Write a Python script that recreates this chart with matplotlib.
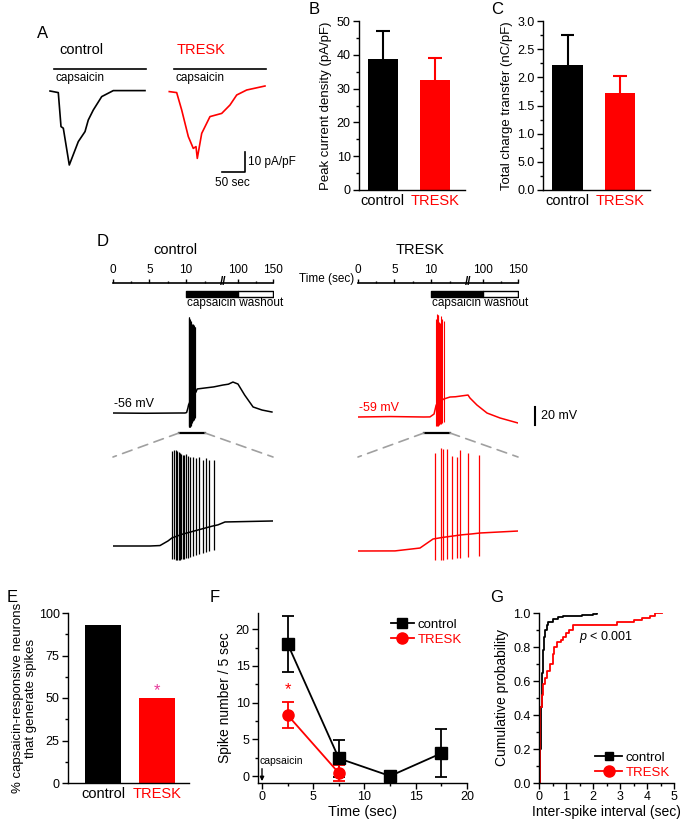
import numpy as np
import matplotlib
matplotlib.use("Agg")
import matplotlib.pyplot as plt
from matplotlib.patches import ConnectionPatch
from matplotlib.lines import Line2D
from matplotlib.ticker import MultipleLocator, FixedLocator, FixedFormatter

plt.rcParams['font.family'] = ['Liberation Sans', 'DejaVu Sans']
plt.rcParams['mathtext.fontset'] = 'custom'
plt.rcParams['mathtext.it'] = 'Liberation Sans:italic'
plt.rcParams['mathtext.rm'] = 'Liberation Sans'
plt.rcParams['axes.linewidth'] = 1.0

W, H = 686, 819
RED = '#ff0000'
MAGENTA = '#e6399b'
GRAY = '#a0a0a0'

# ---- data ----
groups = ['control', 'TRESK']

# A: capsaicin-evoked currents (time in s, current in pA/pF)
a_ctrl_t = [10.9, 28.9, 34.8, 39.8, 52.8, 72.4, 87.0, 94.1, 105.0, 123.3, 148.5, 217.4]
a_ctrl_i = [0.0, -0.8, -17.8, -18.6, -37.0, -25.3, -20.3, -14.5, -9.5, -2.8, 0.2, 0.2]
a_tresk_t = [9.3, 25.4, 36.3, 50.7, 61.5, 67.4, 70.2, 79.8, 97.8, 123.3, 141.3, 155.9, 177.6, 217.4]
a_tresk_i = [-0.3, -0.8, -9.5, -22.8, -28.7, -27.8, -33.7, -21.2, -12.8, -11.2, -7.0, -2.0, 0.5, 2.5]
a_caps_window = (20, 220)

# B, C: mean +/- SEM
peak_density = [38.9, 32.5]
peak_density_err = [8.0, 6.5]
charge = [2.22, 1.72]
charge_err = [0.54, 0.31]
charge_ticks = [0.0, 0.5, 1.0, 1.5, 2.0, 2.5, 3.0]
charge_ticklabels = ['0.0', '5.0', '1.0', '1.5', '2.0', '2.5', '3.0']

# D: time axis schematic (s)
d_axis_ticks = [0, 5, 10, 100, 150]
d_axis_minor = [2.5, 7.5, 43, 125]
d_capsaicin = (10, 100)
d_washout = (100, 150)
d_window = (40.6, 56.6)

# D: membrane potential (time in s, mV)
d_ctrl_t = [0, 20, 40.6, 44.3, 45.3, 46.1, 46.5, 47.5, 48.5, 49.5, 50.5, 51.1, 51.8,
            56.6, 62, 67.7, 71, 73.8, 76.9, 81, 86.2, 91.7, 97.8]
d_ctrl_v = [-56, -56.3, -56, -56, -55.5, -50.4, -47, -43, -40, -37, -34, -32.5, -29.3,
            -28.2, -27, -24.9, -24, -21.6, -23.8, -36, -49.3, -52.7, -54.9]
d_ctrl_spk_t = [46.47, 46.7, 46.9, 47.03, 47.17, 47.3, 47.43, 47.57, 47.7, 47.9, 48.1,
                48.3, 48.57, 48.9, 49.23, 49.57, 49.9, 50.23, 50.73]
d_ctrl_spk_peak = [49.5, 50.7, 50.7, 49.5, 48.4, 47.3, 46.2, 45.1, 45.1, 46.2, 44.0,
                   42.9, 42.9, 41.8, 42.9, 39.5, 41.8, 39.5, 39.5]
d_ctrl_spk_trough = [-70, -70, -71, -71, -71, -71, -70, -70, -70, -69, -69, -68, -67,
                     -66, -65, -64, -63, -62, -60]

d_tresk_t = [0, 20, 40.6, 44.3, 46.8, 48.1, 49, 50, 51, 52, 52.8, 56.6, 60, 64, 67.7,
             68.9, 73.2, 79.4, 87.4, 98.5]
d_tresk_v = [-59, -58.5, -59, -58.9, -55.7, -45.7, -44, -42.5, -41, -40, -39, -36.8,
             -36.5, -35.5, -34.6, -37.9, -45.7, -54.6, -60.1, -65.7]
d_tresk_spk_t = [48.3, 48.9, 49.13, 49.47, 50.03, 50.47, 50.8, 51.57, 52.73]
d_tresk_spk_peak = [49.5, 55.1, 54.0, 54.0, 46.6, 45.8, 53.2, 49.5, 47.7]
d_tresk_spk_trough = [-69, -69, -69, -68, -68, -67, -67, -66, -65]

# E: % capsaicin-responsive neurons that generate spikes
pct_spiking = [93, 50]

# F: spikes per 5-s bin
f_time = [2.5, 7.5, 12.5, 17.5]
f_ctrl = [18.0, 2.4, 0.0, 3.1]
f_ctrl_err = [3.8, 2.5, 0.0, 3.3]
f_tresk_time = [2.5, 7.5]
f_tresk = [8.3, 0.4]
f_tresk_err = [1.8, 1.1]

# G: cumulative ISI distributions
g_ctrl_isi = [0, 0.03, 0.06, 0.1, 0.14, 0.18, 0.22, 0.28, 0.35, 0.5, 0.7, 0.9, 1.2, 1.6, 2.0, 2.15]
g_ctrl_cdf = [0, 0.2, 0.45, 0.65, 0.78, 0.86, 0.9, 0.93, 0.95, 0.965, 0.975, 0.98, 0.985, 0.99, 0.995, 1.0]
g_tresk_isi = [0, 0.02, 0.05, 0.1, 0.15, 0.22, 0.3, 0.4, 0.5, 0.55, 0.65, 0.8, 0.9, 1.0,
               1.1, 1.25, 2.9, 3.2, 3.5, 3.8, 4.1, 4.3, 4.55]
g_tresk_cdf = [0, 0.1, 0.45, 0.52, 0.58, 0.62, 0.66, 0.7, 0.76, 0.8, 0.83, 0.84, 0.86, 0.88,
               0.9, 0.93, 0.95, 0.95, 0.96, 0.97, 0.98, 1.0, 1.0]

fig = plt.figure(figsize=(W / 100, H / 100), dpi=100)


def px_axes(x0, y0, x1, y1):
    return fig.add_axes([x0 / W, 1 - y1 / H, (x1 - x0) / W, (y1 - y0) / H])


def fig_text(x, y, s, **kw):
    kw.setdefault('va', 'center')
    return fig.text(x / W, 1 - y / H, s, **kw)


def style(ax, tick_size=9):
    for side in ('top', 'right'):
        ax.spines[side].set_visible(False)
    ax.tick_params(which='major', length=4, width=1, labelsize=tick_size, pad=2)
    ax.tick_params(which='minor', length=2, width=1)


def group_xticks(ax):
    ax.set_xticks([0, 1])
    ax.set_xticklabels(groups)
    ax.tick_params(axis='x', length=0, pad=3, labelsize=10.5)
    for lab, c in zip(ax.get_xticklabels(), ['black', RED]):
        lab.set_color(c)


def bar_panel(ax, vals, errs, width, cap):
    for i, (v, e, c) in enumerate(zip(vals, errs, ['black', RED])):
        ax.bar(i, v, width, color=c)
        ax.vlines(i, v, v + e, color=c, lw=1.5)
        ax.hlines(v + e, i - cap, i + cap, color=c, lw=1.5)


def color_legend(leg):
    for txt, c in zip(leg.get_texts(), ['black', RED]):
        txt.set_color(c)


# ---- A ----
ax_a1 = px_axes(45, 40, 150, 180)
ax_a2 = px_axes(165, 40, 270, 180)
for ax, t, i, c in [(ax_a1, a_ctrl_t, a_ctrl_i, 'black'), (ax_a2, a_tresk_t, a_tresk_i, RED)]:
    ax.plot(t, i, color=c, lw=1.2)
    ax.plot(a_caps_window, [11, 11], color='black', lw=1.2)
    ax.text(a_caps_window[0] + 2, 6.5, 'capsaicin', fontsize=8.5, va='center')
    ax.set_xlim(0, 228.3)
    ax.set_ylim(-44.5, 25.5)
    ax.axis('off')
ax_a1.text(32, 20.5, 'control', fontsize=10.5, va='center')
ax_a2.text(26, 20.5, 'TRESK', fontsize=10.5, va='center', color=RED)
# scale bar: 50 sec x 10 pA/pF
sb_t, sb_i = 173.9, -40.5
ax_a2.plot([sb_t - 50, sb_t, sb_t], [sb_i, sb_i, sb_i + 10], color='black', lw=1.2, clip_on=False)
ax_a2.text(sb_t + 6, sb_i + 5, '10 pA/pF', fontsize=8.5, va='center', clip_on=False)
ax_a2.text(sb_t - 28, sb_i - 5.5, '50 sec', fontsize=8.5, ha='center', va='center')
fig_text(43, 33, 'A', fontsize=12, ha='center')

# ---- B ----
ax_b = px_axes(359, 21, 465, 190)
bar_panel(ax_b, peak_density, peak_density_err, 0.58, 0.13)
ax_b.set_xlim(-0.46, 1.58)
ax_b.set_ylim(0, 50)
ax_b.yaxis.set_major_locator(MultipleLocator(10))
ax_b.yaxis.set_minor_locator(MultipleLocator(5))
ax_b.set_ylabel('Peak current density (pA/pF)', fontsize=9.5, labelpad=3)
style(ax_b)
group_xticks(ax_b)
fig_text(314, 10, 'B', fontsize=12, ha='center')

# ---- C ----
ax_c = px_axes(543, 21, 650, 190)
bar_panel(ax_c, charge, charge_err, 0.58, 0.13)
ax_c.set_xlim(-0.467, 1.57)
ax_c.set_ylim(0, 3.0)
ax_c.yaxis.set_major_locator(FixedLocator(charge_ticks))
ax_c.yaxis.set_major_formatter(FixedFormatter(charge_ticklabels))
ax_c.yaxis.set_minor_locator(MultipleLocator(0.25))
ax_c.set_ylabel('Total charge transfer (nC/pF)', fontsize=9.5, labelpad=3)
style(ax_c)
group_xticks(ax_c)
fig_text(497, 10, 'C', fontsize=12, ha='center')

# ---- D: time axes ----
def fwd(t):
    return np.interp(t, [0, 10, 100, 150], [0, 2, 3.45, 4.4])


def inv(p):
    return np.interp(p, [0, 2, 3.45, 4.4], [0, 10, 100, 150])


for x0, title in [(113, 'control'), (358, 'TRESK')]:
    ax = px_axes(x0, 283, x0 + 160, 300)
    ax.set_xscale('function', functions=(fwd, inv))
    ax.set_xlim(0, 150)
    ax.set_ylim(0, 1)
    for side in ('bottom', 'left', 'right'):
        ax.spines[side].set_visible(False)
    ax.spines['top'].set_linewidth(1.2)
    ax.xaxis.set_ticks_position('top')
    ax.xaxis.set_major_locator(FixedLocator(d_axis_ticks))
    ax.xaxis.set_major_formatter(FixedFormatter([str(v) for v in d_axis_ticks]))
    ax.xaxis.set_minor_locator(FixedLocator(d_axis_minor))
    ax.tick_params(which='major', length=3, width=1, labelsize=8.5, pad=2)
    ax.tick_params(which='minor', length=1.5, width=1)
    ax.set_yticks([])
    ax.broken_barh([(d_capsaicin[0], d_capsaicin[1] - d_capsaicin[0])], (0.2, 0.35),
                   facecolors='black', edgecolors='black', lw=1)
    ax.broken_barh([(d_washout[0], d_washout[1] - d_washout[0])], (0.2, 0.35),
                   facecolors='white', edgecolors='black', lw=1)
    ax.text(74, 1.05, '//', fontsize=8.5, ha='center', va='center', fontweight='bold',
            clip_on=False)
    ax.text(94, -0.2, 'capsaicin washout', fontsize=8.5, ha='center', va='center')
    fig_text(x0 + 62, 250, title, fontsize=10.5, ha='center')
fig_text(327, 279, 'Time (sec)', fontsize=8.5, ha='center')
fig_text(103, 242, 'D', fontsize=12, ha='center')


# ---- D: voltage traces ----
def trace(ax, t, v, spk_t, spk_peak, spk_trough, color, lw):
    ax.plot(t, v, color=color, lw=1.1)
    ax.vlines(spk_t, spk_trough, spk_peak, color=color, lw=lw)
    ax.axis('off')


panels_d = [
    (113, 413, -56, d_ctrl_t, d_ctrl_v, d_ctrl_spk_t, d_ctrl_spk_peak, d_ctrl_spk_trough, 'black', 546),
    (358, 417, -59, d_tresk_t, d_tresk_v, d_tresk_spk_t, d_tresk_spk_peak, d_tresk_spk_trough, RED, 551),
]
mv_per_px = 1 / 0.9
for x0, base_y, vrest, t, v, st, sp, sr, c, zbase_y in panels_d:
    top = px_axes(x0, 310, x0 + 160, 440)
    top.set_xlim(0, 98.46)
    top.set_ylim(vrest - (440 - base_y) * mv_per_px, vrest + (base_y - 310) * mv_per_px)
    trace(top, t, v, st, sp, sr, c, 0.8)
    top.text(0.5, vrest + 10.5, f'{vrest} mV', fontsize=9, color=c, va='center')
    bar_v = vrest - (433 - base_y) * mv_per_px
    top.plot(d_window, [bar_v, bar_v], color='black', lw=1.6)

    bot = px_axes(x0, 440, x0 + 160, 570)
    bot.set_xlim(*d_window)
    bot.set_ylim(vrest - (570 - zbase_y) * mv_per_px, vrest + (zbase_y - 440) * mv_per_px)
    trace(bot, t, v, st, sp, sr, c, 0.9)
    for xa, xb in [(d_window[0], 0), (d_window[1], 1)]:
        con = ConnectionPatch(xyA=(xa, bar_v), coordsA=top.transData,
                              xyB=(xb, (570 - 457) / 130), coordsB=bot.transAxes,
                              color=GRAY, lw=1.2, linestyle=(0, (6, 4)))
        fig.add_artist(con)
    if c == RED:
        sb_t = 98.46 + (535 - 518) / 1.625
        sb_v0 = vrest - (425 - base_y) * mv_per_px
        top.plot([sb_t, sb_t], [sb_v0, sb_v0 + 20], color='black', lw=1.5, clip_on=False)
        top.text(sb_t + 3.5, sb_v0 + 10, '20 mV', fontsize=9, va='center')

# ---- E ----
ax_e = px_axes(68, 613, 189, 783)
for i, (v, c) in enumerate(zip(pct_spiking, ['black', RED])):
    ax_e.bar(i, v, 0.667, color=c)
ax_e.set_xlim(-0.648, 1.593)
ax_e.set_ylim(0, 100)
ax_e.yaxis.set_major_locator(MultipleLocator(25))
ax_e.yaxis.set_minor_locator(MultipleLocator(12.5))
ax_e.set_ylabel('% capsaicin-responsive neurons\nthat generate spikes', fontsize=9.5,
                labelpad=1, linespacing=1.1)
style(ax_e)
group_xticks(ax_e)
ax_e.text(1, pct_spiking[1] + 4.5, '*', color=MAGENTA, fontsize=12, ha='center', va='center')
fig_text(12, 597, 'E', fontsize=12, ha='center')

# ---- F ----
ax_f = px_axes(258, 613, 467, 783)
ax_f.errorbar(f_time, f_ctrl, yerr=f_ctrl_err, fmt='-s', color='black', ms=8,
              lw=1.3, elinewidth=1.3, capsize=4, capthick=1.3)
ax_f.errorbar(f_tresk_time, f_tresk, yerr=f_tresk_err, fmt='-o', color=RED, ms=8,
              lw=1.3, elinewidth=1.3, capsize=4, capthick=1.3)
ax_f.text(f_tresk_time[0], f_tresk[0] + f_tresk_err[0] + 1.7, '*', color=RED,
          fontsize=12, ha='center', va='center')
ax_f.annotate('', xy=(0, -0.7), xytext=(0, 1.0),
              arrowprops=dict(arrowstyle='-|>', lw=1, color='black', mutation_scale=6,
                              shrinkA=0, shrinkB=0))
ax_f.text(-0.2, 2.0, 'capsaicin', fontsize=7.5, ha='left', va='center')
ax_f.set_xlim(-0.39, 20)
ax_f.set_ylim(-0.95, 22.2)
ax_f.xaxis.set_major_locator(MultipleLocator(5))
ax_f.xaxis.set_minor_locator(MultipleLocator(2.5))
ax_f.yaxis.set_major_locator(MultipleLocator(5))
ax_f.yaxis.set_minor_locator(MultipleLocator(2.5))
ax_f.set_xlabel('Time (sec)', fontsize=10.5, labelpad=1)
ax_f.set_ylabel('Spike number / 5 sec', fontsize=10, labelpad=3)
style(ax_f)
handles = [Line2D([], [], color='black', marker='s', ms=7, lw=1.3),
           Line2D([], [], color=RED, marker='o', ms=8, lw=1.3)]
leg = ax_f.legend(handles, groups, loc='upper right', frameon=False, fontsize=9.5,
                  handlelength=1.7, handletextpad=0.3, borderaxespad=0.1,
                  labelspacing=0.25, borderpad=0.3)
color_legend(leg)
fig_text(215, 597, 'F', fontsize=12, ha='center')

# ---- G ----
ax_g = px_axes(539, 613, 674, 783)
ax_g.step(g_ctrl_isi, g_ctrl_cdf, where='post', color='black', lw=1.3)
ax_g.step(g_tresk_isi, g_tresk_cdf, where='post', color=RED, lw=1.3)
ax_g.set_xlim(0, 5)
ax_g.set_ylim(0, 1)
ax_g.xaxis.set_major_locator(MultipleLocator(1))
ax_g.xaxis.set_minor_locator(MultipleLocator(0.5))
ax_g.yaxis.set_major_locator(MultipleLocator(0.2))
ax_g.yaxis.set_minor_locator(MultipleLocator(0.1))
ax_g.yaxis.set_major_formatter(plt.FormatStrFormatter('%.1f'))
ax_g.set_xlabel('Inter-spike interval (sec)', fontsize=10, labelpad=1)
ax_g.set_ylabel('Cumulative probability', fontsize=10, labelpad=3)
ax_g.text(1.48, 0.86, r'$p$ < 0.001', fontsize=9, va='center')
style(ax_g)
handles = [Line2D([], [], color='black', marker='s', ms=6, lw=1.3),
           Line2D([], [], color=RED, marker='o', ms=8, lw=1.3)]
leg = ax_g.legend(handles, groups, loc='lower right', frameon=False, fontsize=9.5,
                  handlelength=2.0, handletextpad=0.3, borderaxespad=0.0,
                  labelspacing=0.25, borderpad=0.3)
color_legend(leg)
fig_text(497, 597, 'G', fontsize=12, ha='center')

fig.savefig('out.png', dpi=100)
